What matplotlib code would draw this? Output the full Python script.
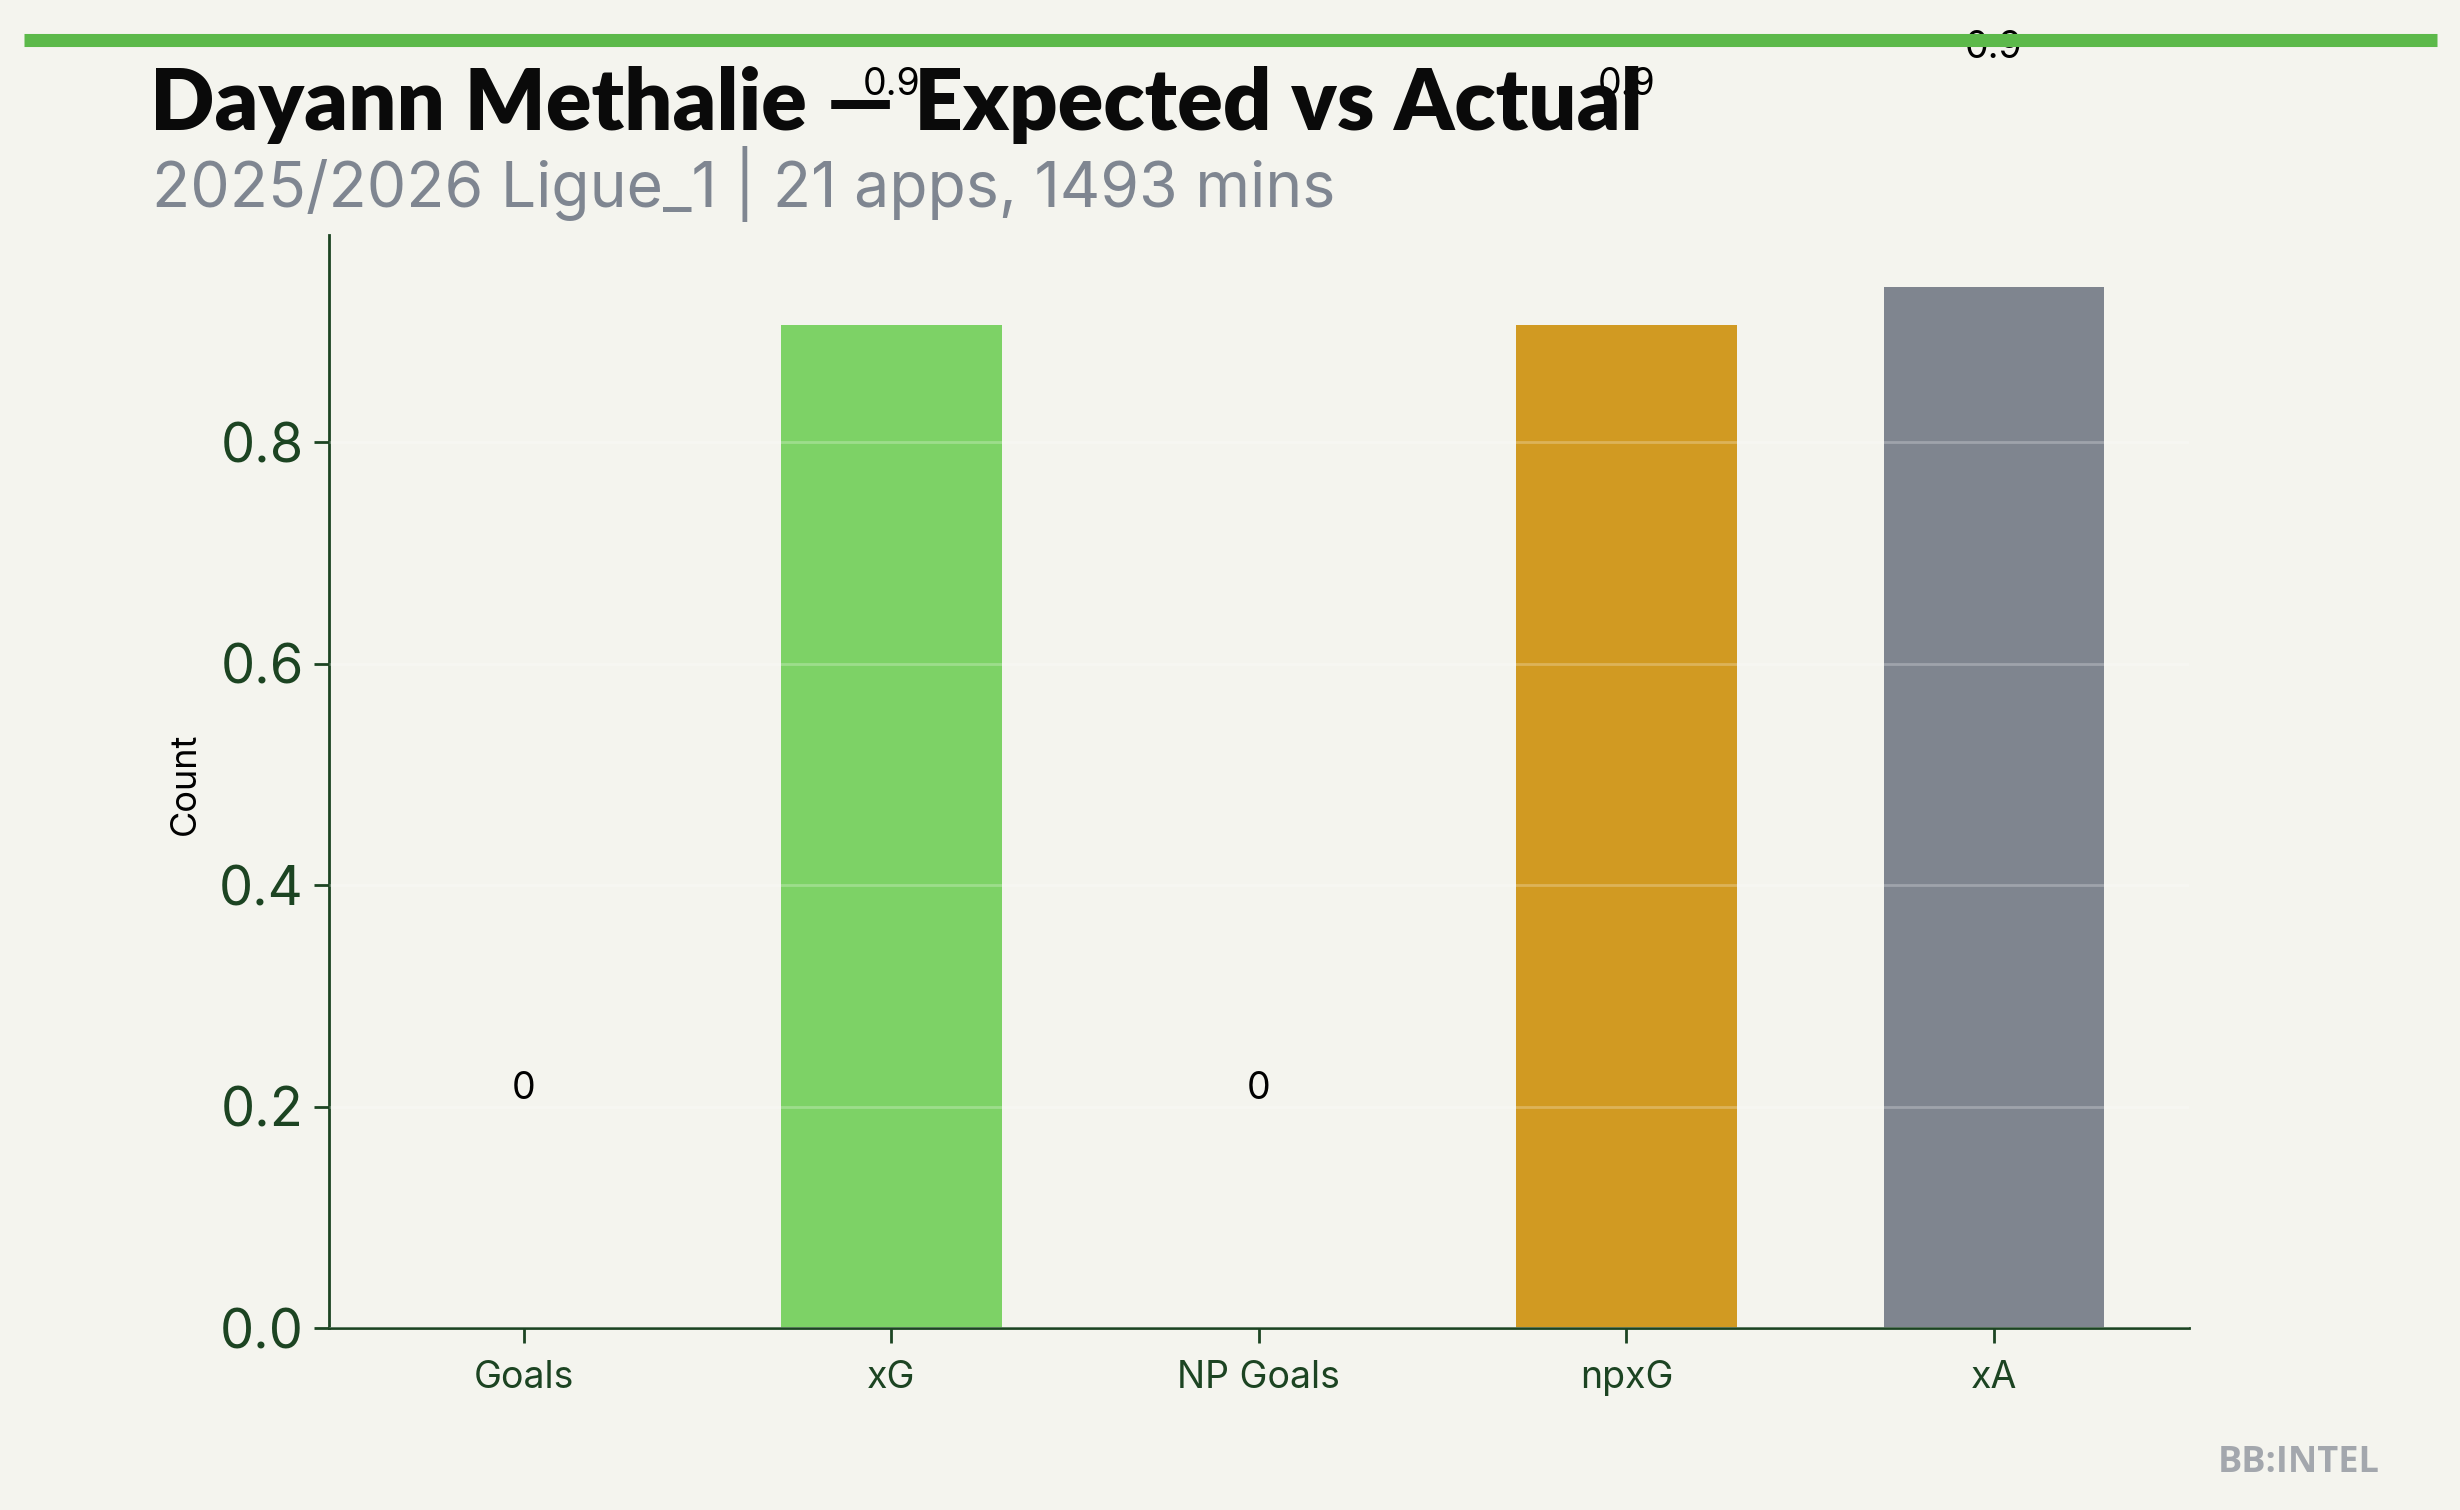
import matplotlib
matplotlib.use("Agg")
import matplotlib.pyplot as plt
from matplotlib.lines import Line2D

categories = ["Goals", "xG", "NP Goals", "npxG", "xA"]
values = [0, 0.906, 0, 0.906, 0.94]
value_labels = ["0", "0.9", "0", "0.9", "0.9"]
bar_colors = ["#5cb94a", "#7dd266", "#5cb94a", "#d19a22", "#7f858f"]
title = "Dayann Methalie — Expected vs Actual"
subtitle = "2025/2026 Ligue_1 | 21 apps, 1493 mins"

BG = "#f4f4ee"
DARK = "#1c4422"

fig = plt.figure(figsize=(12.3, 7.55), dpi=200, facecolor=BG)
ax = fig.add_axes([0.1337, 0.1205, 0.7561, 0.7239])
ax.set_facecolor(BG)

x = list(range(len(categories)))
ax.bar(x, values, width=0.6, color=bar_colors, zorder=2)
ax.set_ylim(0, max(values) * 1.05)
ax.set_xticks(x)
ax.set_xticklabels(categories, fontsize=13.5, color=DARK, family="Inter")
ax.set_yticks([0.0, 0.2, 0.4, 0.6, 0.8])
ax.set_yticklabels(["0.0", "0.2", "0.4", "0.6", "0.8"], fontsize=19.5, color=DARK, family="Inter")
ax.tick_params(axis="both", colors=DARK, length=5.5, width=1)
ax.tick_params(axis="x", pad=6)
for s in ["top", "right"]:
    ax.spines[s].set_visible(False)
for s in ["left", "bottom"]:
    ax.spines[s].set_color(DARK)
    ax.spines[s].set_linewidth(1.0)
ax.grid(axis="y", color="#ffffff", alpha=0.25, linewidth=1.0, zorder=3)
ax.set_axisbelow(False)

for xi, v, lab in zip(x, values, value_labels):
    ax.text(xi, v + 0.2, lab, ha="center", va="bottom", fontsize=13.5,
            family="Inter", color="black", clip_on=False, zorder=5)

fig.text(185 / 2460, 1 - 784 / 1510, "Count", rotation=90, fontsize=13,
         family="Inter", color="black", ha="center", va="center")

fig.add_artist(Line2D([24 / 2460, 2437 / 2460], [1 - 40 / 1510, 1 - 40 / 1510],
                      transform=fig.transFigure, color="#5cb94a", linewidth=4.7,
                      solid_capstyle="butt"))
fig.text(150 / 2460, 1 - 130 / 1510, title, fontsize=30.5, fontweight="heavy",
         family="Lato", color="#0a0a0a", ha="left", va="baseline")
fig.text(152 / 2460, 1 - 207 / 1510, subtitle, fontsize=22.5,
         family="Inter", color="#7f8691", ha="left", va="baseline")
fig.text(2380 / 2460, 1 - 1472 / 1510, "BB:INTEL", fontsize=13, fontweight="bold",
         family="Open Sans", color="#a3a7ad", ha="right", va="baseline")

fig.savefig("out.png", dpi=200, facecolor=BG)
